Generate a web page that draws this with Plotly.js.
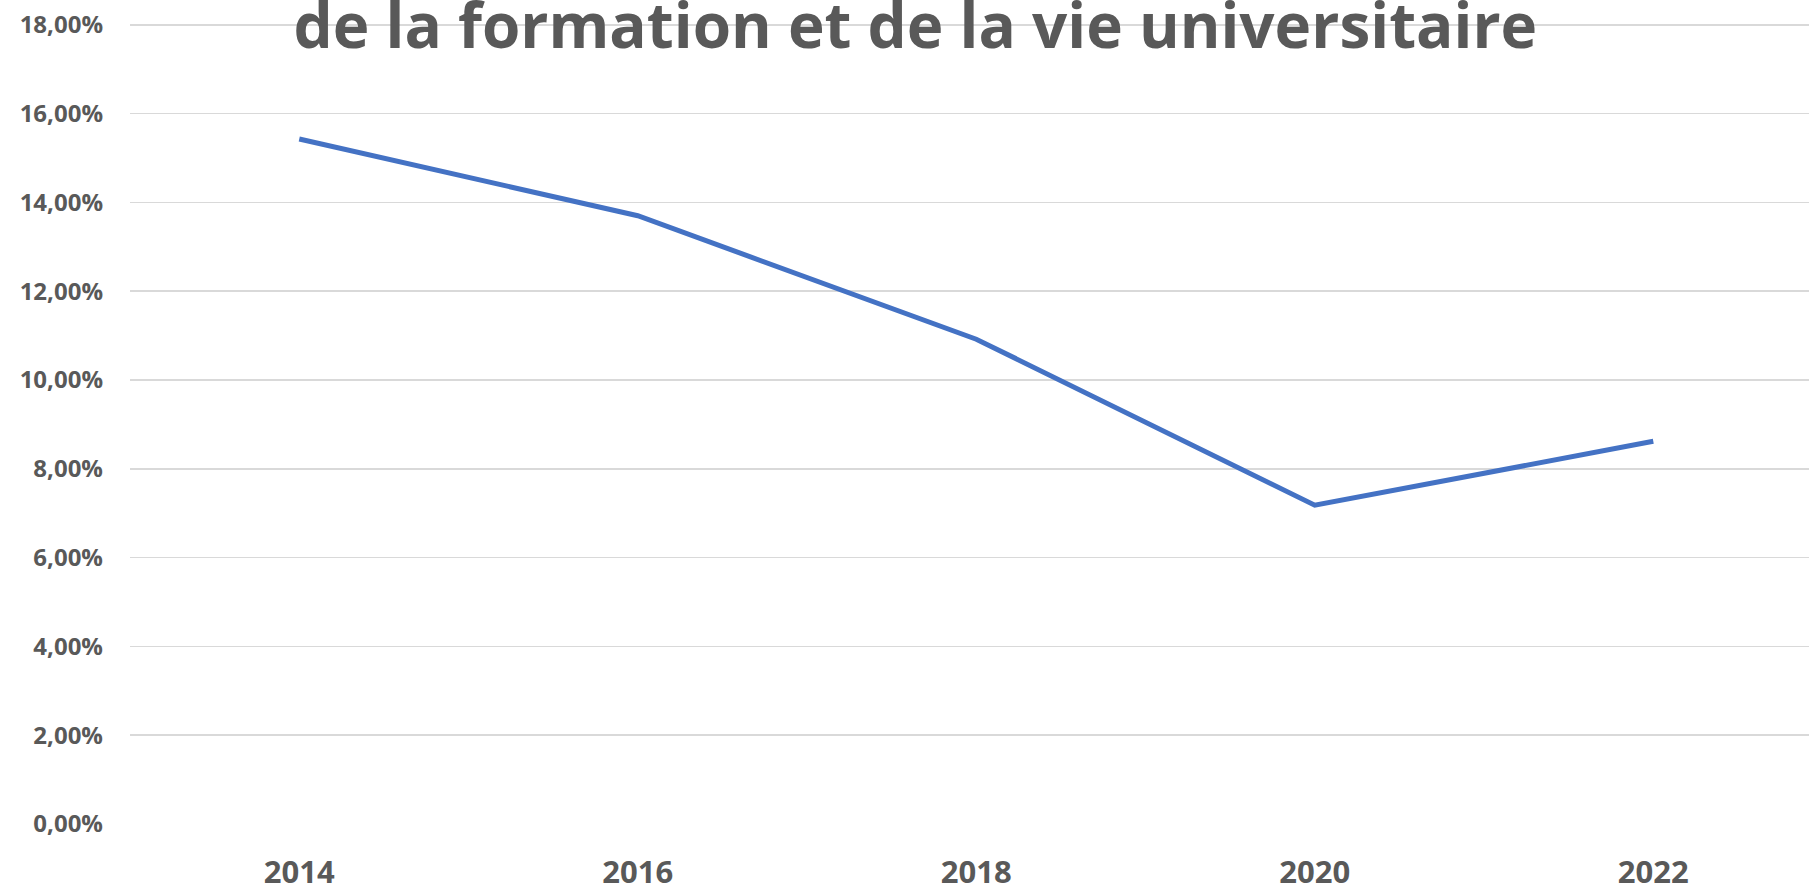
<!DOCTYPE html>
<html>
<head>
<meta charset="utf-8">
<script src="https://cdn.plot.ly/plotly-3.0.1.min.js"></script>
<style>html,body{margin:0;padding:0;background:#fff;}#chart{width:1809px;height:888px;}</style>
</head>
<body>
<div id="chart"></div>
<script>
const years = ["2014", "2016", "2018", "2020", "2022"];
const values = [15.43, 13.70, 10.92, 7.18, 8.62];
const yTickVals = [0, 2, 4, 6, 8, 10, 12, 14, 16, 18];
const yTickText = ["0,00%", "2,00%", "4,00%", "6,00%", "8,00%", "10,00%", "12,00%", "14,00%", "16,00%", "18,00%"];
const titleText = "de la formation et de la vie universitaire";

const labelColor = "#595959";
const trace = {
  x: years,
  y: values,
  type: "scatter",
  mode: "lines",
  line: {color: "#4472C4", width: 5},
  hoverinfo: "skip"
};
const layout = {
  width: 1809,
  height: 888,
  margin: {l: 130, r: 0, t: 0, b: 64},
  paper_bgcolor: "#ffffff",
  plot_bgcolor: "#ffffff",
  showlegend: false,
  title: {
    text: titleText,
    font: {family: "Open Sans", size: 62, color: labelColor, weight: 700},
    xref: "container", yref: "container",
    x: 0.506, y: 1 - 26/888, xanchor: "center", yanchor: "middle"
  },
  xaxis: {
    type: "category",
    range: [-0.5, 4.46],
    showgrid: false,
    zeroline: false,
    showline: false,
    ticks: "",
    ticklabelstandoff: 27,
    tickfont: {family: "Open Sans", size: 31, color: labelColor, weight: 700}
  },
  yaxis: {
    range: [0, 18.56],
    tickvals: yTickVals,
    ticktext: yTickText,
    showgrid: true,
    gridcolor: "#d9d9d9",
    gridwidth: 1.5,
    zeroline: false,
    showline: false,
    ticks: "",
    ticklabelstandoff: 26,
    tickfont: {family: "Open Sans", size: 24, color: labelColor, weight: 700}
  }
};
Plotly.newPlot("chart", [trace], layout, {staticPlot: true, displayModeBar: false});
</script>
</body>
</html>
